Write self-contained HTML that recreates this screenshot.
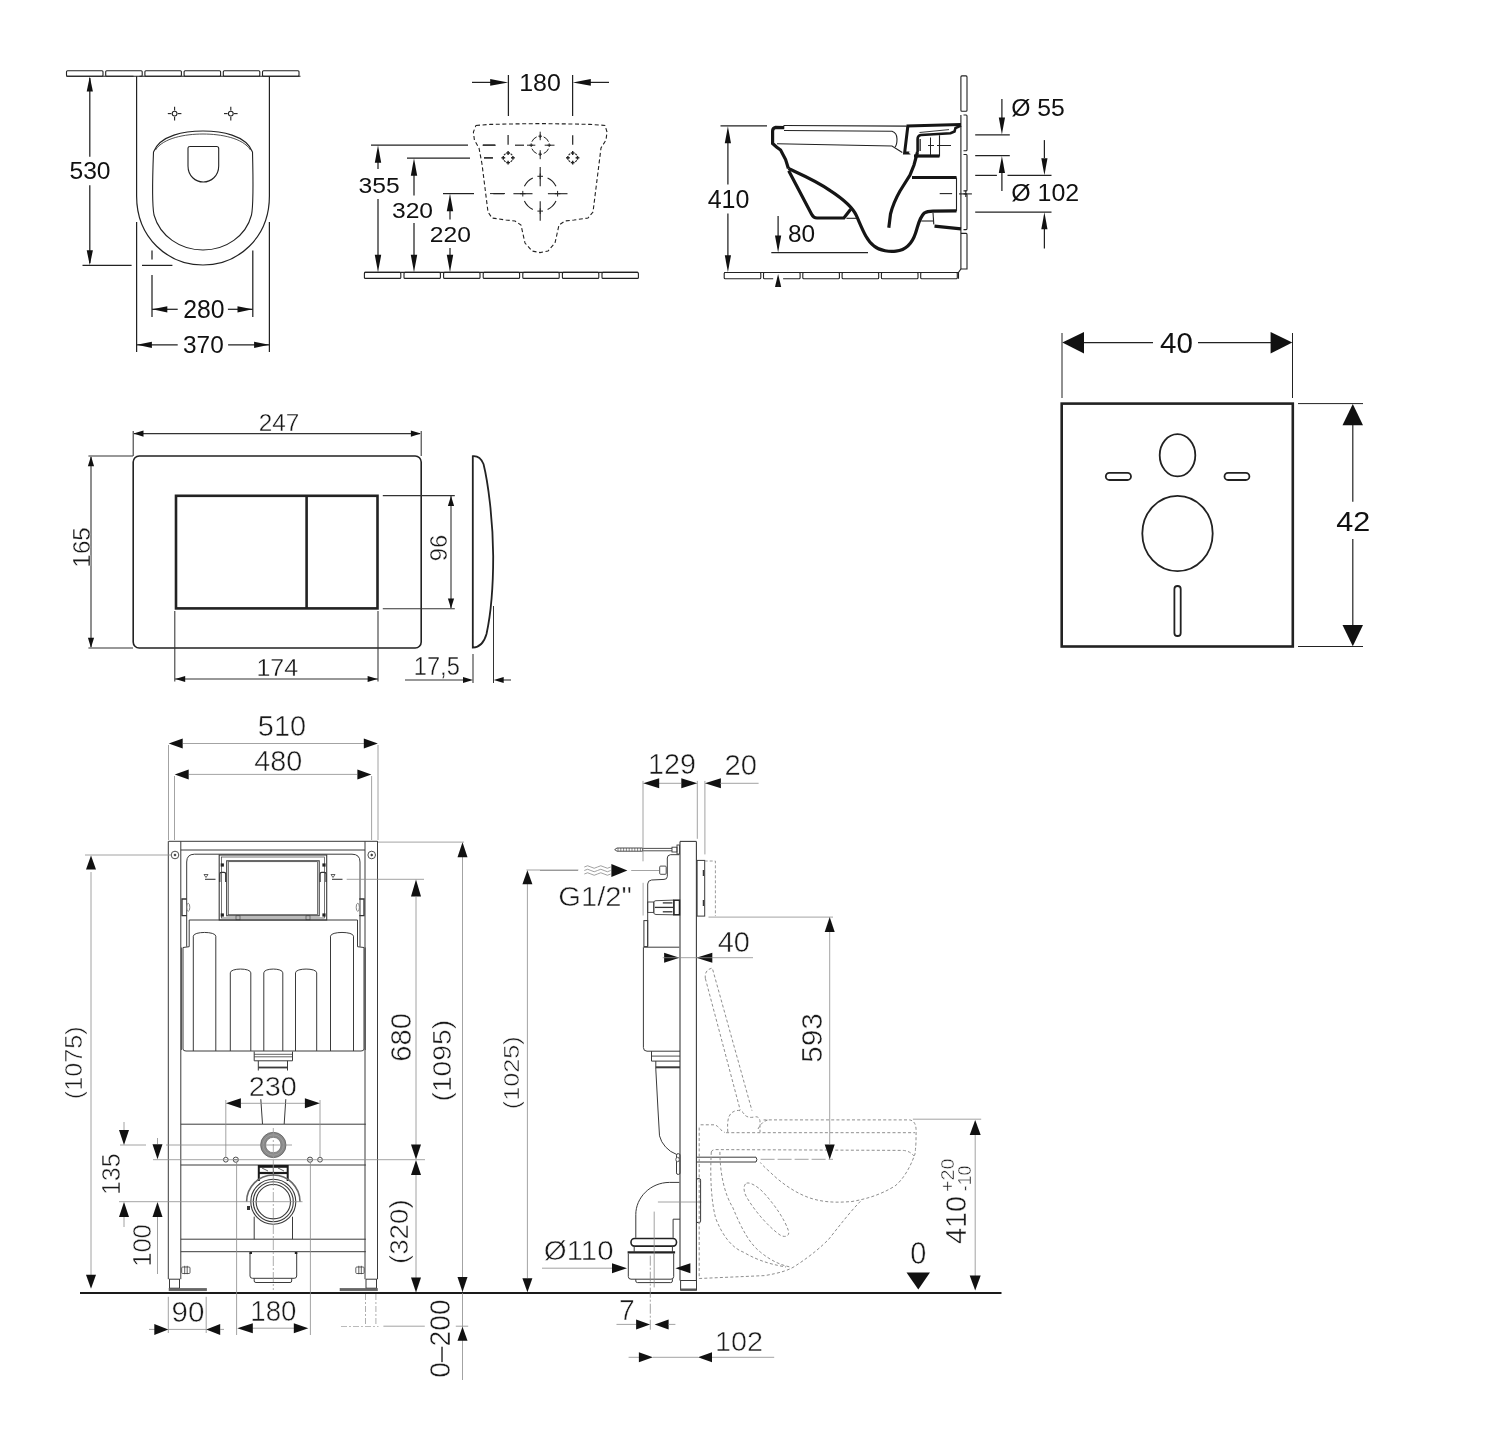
<!DOCTYPE html>
<html><head><meta charset="utf-8"><style>
html,body{margin:0;padding:0;background:#fff;}
svg{display:block;will-change:transform;font-family:"Liberation Sans",sans-serif;}
</style></head><body>
<svg width="1500" height="1451" viewBox="0 0 1500 1451">
<rect width="1500" height="1451" fill="#fff"/>
<rect x="66.5" y="70.7" width="36.5" height="5.6" rx="1" stroke="#222" stroke-width="1.1" fill="none"/>
<rect x="105.7" y="70.7" width="36.5" height="5.6" rx="1" stroke="#222" stroke-width="1.1" fill="none"/>
<rect x="144.9" y="70.7" width="36.5" height="5.6" rx="1" stroke="#222" stroke-width="1.1" fill="none"/>
<rect x="184.1" y="70.7" width="36.5" height="5.6" rx="1" stroke="#222" stroke-width="1.1" fill="none"/>
<rect x="223.3" y="70.7" width="36.5" height="5.6" rx="1" stroke="#222" stroke-width="1.1" fill="none"/>
<rect x="262.5" y="70.7" width="36.5" height="5.6" rx="1" stroke="#222" stroke-width="1.1" fill="none"/>
<line x1="66.5" y1="76.3" x2="133.5" y2="76.3" stroke="#222" stroke-width="1.1"/>
<line x1="139.5" y1="76.3" x2="300.5" y2="76.3" stroke="#222" stroke-width="1.1"/>
<path d="M136.6,76.3 L136.6,196 C136.6,238 168,265 203,265 C238,265 269.4,238 269.4,196 L269.4,76.3" stroke="#222" stroke-width="1.2" fill="none" />
<path d="M153.5,152 C152,190 152,205 154,215 C160,236 180,250 203,250 C226,250 246,236 251.5,215 C253.5,205 253.5,190 252.5,152" stroke="#222" stroke-width="1.1" fill="none" />
<path d="M153.5,152 C160,135 185,131 203,131 C221,131 246,135 252.5,152" stroke="#222" stroke-width="1.1" fill="none" />
<path d="M155.5,150 C163,138 185,134 203,134 C221,134 243,138 250.5,150" stroke="#222" stroke-width="0.8" fill="none" />
<path d="M188,148 Q188,146.5 190,146.5 L216.5,146.5 Q218.7,146.5 218.7,148.5 L218.7,166 C218.7,176 211,182 203.3,182 C195.5,182 188,176 188,166 Z" stroke="#222" stroke-width="1.1" fill="none" />
<ellipse cx="174.6" cy="113.6" rx="2.4" ry="2.4" stroke="#222" stroke-width="1.1" fill="none"/>
<line x1="167.8" y1="113.6" x2="171.4" y2="113.6" stroke="#222" stroke-width="1.1"/>
<line x1="177.8" y1="113.6" x2="181.4" y2="113.6" stroke="#222" stroke-width="1.1"/>
<line x1="174.6" y1="106.8" x2="174.6" y2="110.4" stroke="#222" stroke-width="1.1"/>
<line x1="174.6" y1="116.8" x2="174.6" y2="120.4" stroke="#222" stroke-width="1.1"/>
<ellipse cx="230.8" cy="113.6" rx="2.4" ry="2.4" stroke="#222" stroke-width="1.1" fill="none"/>
<line x1="224.0" y1="113.6" x2="227.6" y2="113.6" stroke="#222" stroke-width="1.1"/>
<line x1="234.0" y1="113.6" x2="237.6" y2="113.6" stroke="#222" stroke-width="1.1"/>
<line x1="230.8" y1="106.8" x2="230.8" y2="110.4" stroke="#222" stroke-width="1.1"/>
<line x1="230.8" y1="116.8" x2="230.8" y2="120.4" stroke="#222" stroke-width="1.1"/>
<line x1="89.8" y1="78.0" x2="89.8" y2="156.8" stroke="#222" stroke-width="1.25"/>
<line x1="89.8" y1="185.2" x2="89.8" y2="263.0" stroke="#222" stroke-width="1.25"/>
<polygon points="89.8,76.5 92.9,91.5 86.7,91.5" fill="#111"/>
<polygon points="89.8,265.3 86.7,250.3 92.9,250.3" fill="#111"/>
<line x1="82.5" y1="265.4" x2="131.6" y2="265.4" stroke="#222" stroke-width="1.25"/>
<line x1="142.0" y1="265.4" x2="172.4" y2="265.4" stroke="#222" stroke-width="1.25"/>
<text x="0" y="0" font-size="23.78" text-anchor="middle" fill="#111" transform="translate(90.00 179.20) scale(1.036 1)" >530</text>
<line x1="152.0" y1="250.6" x2="152.0" y2="259.4" stroke="#222" stroke-width="1.25"/>
<line x1="152.0" y1="275.0" x2="152.0" y2="317.0" stroke="#222" stroke-width="1.25"/>
<line x1="252.8" y1="250.6" x2="252.8" y2="317.0" stroke="#222" stroke-width="1.25"/>
<line x1="152.0" y1="309.3" x2="177.7" y2="309.3" stroke="#222" stroke-width="1.25"/>
<line x1="227.9" y1="309.3" x2="252.8" y2="309.3" stroke="#222" stroke-width="1.25"/>
<polygon points="152.3,309.3 167.3,306.2 167.3,312.4" fill="#111"/>
<polygon points="252.5,309.3 237.5,312.4 237.5,306.2" fill="#111"/>
<text x="0" y="0" font-size="24.92" text-anchor="middle" fill="#111" transform="translate(203.80 317.80) scale(0.995 1)" >280</text>
<line x1="136.6" y1="222.0" x2="136.6" y2="352.0" stroke="#222" stroke-width="1.25"/>
<line x1="269.4" y1="222.0" x2="269.4" y2="352.0" stroke="#222" stroke-width="1.25"/>
<line x1="136.6" y1="344.8" x2="177.7" y2="344.8" stroke="#222" stroke-width="1.25"/>
<line x1="228.1" y1="344.8" x2="269.4" y2="344.8" stroke="#222" stroke-width="1.25"/>
<polygon points="136.9,344.8 151.9,341.7 151.9,347.9" fill="#111"/>
<polygon points="269.1,344.8 254.1,347.9 254.1,341.7" fill="#111"/>
<text x="0" y="0" font-size="23.5" text-anchor="middle" fill="#111" transform="translate(203.40 352.50) scale(1.039 1)" >370</text>
<rect x="364.4" y="272.4" width="36.4" height="6.0" rx="1" stroke="#222" stroke-width="1.1" fill="none"/>
<rect x="404.0" y="272.4" width="36.4" height="6.0" rx="1" stroke="#222" stroke-width="1.1" fill="none"/>
<rect x="443.6" y="272.4" width="36.4" height="6.0" rx="1" stroke="#222" stroke-width="1.1" fill="none"/>
<rect x="483.2" y="272.4" width="36.4" height="6.0" rx="1" stroke="#222" stroke-width="1.1" fill="none"/>
<rect x="522.8" y="272.4" width="36.4" height="6.0" rx="1" stroke="#222" stroke-width="1.1" fill="none"/>
<rect x="562.4" y="272.4" width="36.4" height="6.0" rx="1" stroke="#222" stroke-width="1.1" fill="none"/>
<rect x="602.0" y="272.4" width="36.4" height="6.0" rx="1" stroke="#222" stroke-width="1.1" fill="none"/>
<line x1="364.4" y1="272.4" x2="638.0" y2="272.4" stroke="#222" stroke-width="1.1"/>
<line x1="508.4" y1="75.0" x2="508.4" y2="116.0" stroke="#222" stroke-width="1.25"/>
<line x1="572.6" y1="75.0" x2="572.6" y2="116.0" stroke="#222" stroke-width="1.25"/>
<line x1="472.0" y1="82.4" x2="495.0" y2="82.4" stroke="#222" stroke-width="1.25"/>
<polygon points="508.2,82.4 490.2,85.7 490.2,79.1" fill="#111"/>
<line x1="609.0" y1="82.4" x2="586.0" y2="82.4" stroke="#222" stroke-width="1.25"/>
<polygon points="572.8,82.4 590.8,79.1 590.8,85.7" fill="#111"/>
<text x="0" y="0" font-size="24.36" text-anchor="middle" fill="#111" transform="translate(540.00 91.00) scale(1.024 1)" >180</text>
<path d="M476.0,125.4 L490.0,124.4 L508.0,124.0 L540.0,123.6 L572.0,124.0 L590.0,124.4 L605.0,125.4 L607.0,132.0 L606.0,140.0 L601.0,148.0 L599.0,164.0 L596.0,188.0 L593.0,212.0 L588.0,218.0 L574.0,220.0 L565.0,221.0 L559.0,225.0 L557.0,234.0 L555.0,243.0 L548.0,251.0 L540.0,252.6 L532.0,251.0 L525.0,243.0 L523.0,234.0 L521.0,225.0 L515.0,221.0 L506.0,220.0 L492.0,218.0 L488.0,212.0 L485.0,188.0 L482.0,164.0 L479.0,148.0 L474.4,140.0 L473.4,132.0 Z" stroke="#222" stroke-width="1.1" fill="none" stroke-dasharray="4,2.6" />
<line x1="371.0" y1="145.0" x2="468.0" y2="145.0" stroke="#222" stroke-width="1.25"/>
<line x1="483.0" y1="145.0" x2="495.0" y2="145.0" stroke="#222" stroke-width="1"/>
<line x1="407.0" y1="158.0" x2="470.0" y2="158.0" stroke="#222" stroke-width="1.25"/>
<line x1="484.0" y1="158.0" x2="493.0" y2="158.0" stroke="#222" stroke-width="1"/>
<line x1="443.0" y1="193.6" x2="474.0" y2="193.6" stroke="#222" stroke-width="1.25"/>
<line x1="490.0" y1="193.6" x2="505.0" y2="193.6" stroke="#222" stroke-width="1"/>
<line x1="378.0" y1="160.0" x2="378.0" y2="169.0" stroke="#222" stroke-width="1.25"/>
<line x1="378.0" y1="199.0" x2="378.0" y2="257.0" stroke="#222" stroke-width="1.25"/>
<polygon points="378.0,145.3 381.2,162.8 374.8,162.8" fill="#111"/>
<polygon points="378.0,272.2 374.8,254.7 381.2,254.7" fill="#111"/>
<text x="0" y="0" font-size="22.32" text-anchor="middle" fill="#111" transform="translate(379.10 193.40) scale(1.104 1)" >355</text>
<line x1="414.0" y1="174.0" x2="414.0" y2="195.5" stroke="#222" stroke-width="1.25"/>
<line x1="414.0" y1="222.9" x2="414.0" y2="257.0" stroke="#222" stroke-width="1.25"/>
<polygon points="414.0,158.3 417.2,175.8 410.8,175.8" fill="#111"/>
<polygon points="414.0,272.2 410.8,254.7 417.2,254.7" fill="#111"/>
<text x="0" y="0" font-size="22.32" text-anchor="middle" fill="#111" transform="translate(412.50 217.80) scale(1.105 1)" >320</text>
<line x1="450.0" y1="209.0" x2="450.0" y2="219.6" stroke="#222" stroke-width="1.25"/>
<polygon points="450.0,193.8 453.2,211.3 446.8,211.3" fill="#111"/>
<line x1="450.0" y1="248.0" x2="450.0" y2="257.0" stroke="#222" stroke-width="1.25"/>
<polygon points="450.0,272.2 446.8,254.7 453.2,254.7" fill="#111"/>
<text x="0" y="0" font-size="22.87" text-anchor="middle" fill="#111" transform="translate(450.30 242.20) scale(1.078 1)" >220</text>
<path d="M548.5,148.7 A9,9 0 0 1 543.7,153.5" stroke="#222" stroke-width="1" fill="none" />
<path d="M536.7,153.5 A9,9 0 0 1 531.9,148.7" stroke="#222" stroke-width="1" fill="none" />
<path d="M531.9,141.7 A9,9 0 0 1 536.7,136.9" stroke="#222" stroke-width="1" fill="none" />
<path d="M543.7,136.9 A9,9 0 0 1 548.5,141.7" stroke="#222" stroke-width="1" fill="none" />
<line x1="540.2" y1="131.7" x2="540.2" y2="140.2" stroke="#222" stroke-width="1"/>
<line x1="540.2" y1="150.2" x2="540.2" y2="159.2" stroke="#222" stroke-width="1"/>
<line x1="527.0" y1="145.2" x2="535.3" y2="145.2" stroke="#222" stroke-width="1"/>
<line x1="544.7" y1="145.2" x2="554.5" y2="145.2" stroke="#222" stroke-width="1"/>
<line x1="538.4" y1="136.2" x2="542.0" y2="136.2" stroke="#222" stroke-width="1"/>
<line x1="540.2" y1="134.4" x2="540.2" y2="138.0" stroke="#222" stroke-width="1"/>
<line x1="538.4" y1="154.2" x2="542.0" y2="154.2" stroke="#222" stroke-width="1"/>
<line x1="540.2" y1="152.4" x2="540.2" y2="156.0" stroke="#222" stroke-width="1"/>
<line x1="529.4" y1="145.2" x2="533.0" y2="145.2" stroke="#222" stroke-width="1"/>
<line x1="531.2" y1="143.4" x2="531.2" y2="147.0" stroke="#222" stroke-width="1"/>
<line x1="547.4" y1="145.2" x2="551.0" y2="145.2" stroke="#222" stroke-width="1"/>
<line x1="549.2" y1="143.4" x2="549.2" y2="147.0" stroke="#222" stroke-width="1"/>
<line x1="482.6" y1="145.2" x2="495.7" y2="145.2" stroke="#222" stroke-width="1.2"/>
<line x1="515.0" y1="145.2" x2="524.0" y2="145.2" stroke="#222" stroke-width="1.2"/>
<line x1="508.1" y1="134.9" x2="508.1" y2="144.7" stroke="#222" stroke-width="1.2"/>
<line x1="572.7" y1="135.2" x2="572.7" y2="144.7" stroke="#222" stroke-width="1.2"/>
<path d="M512.2,160.3 A4.8,4.8 0 0 1 510.6,161.9" stroke="#222" stroke-width="1.1" fill="none" />
<path d="M505.6,161.9 A4.8,4.8 0 0 1 504.0,160.3" stroke="#222" stroke-width="1.1" fill="none" />
<path d="M504.0,155.3 A4.8,4.8 0 0 1 505.6,153.7" stroke="#222" stroke-width="1.1" fill="none" />
<path d="M510.6,153.7 A4.8,4.8 0 0 1 512.2,155.3" stroke="#222" stroke-width="1.1" fill="none" />
<line x1="511.0" y1="157.8" x2="514.8" y2="157.8" stroke="#222" stroke-width="1.4"/>
<line x1="512.9" y1="155.9" x2="512.9" y2="159.7" stroke="#222" stroke-width="1.4"/>
<line x1="501.4" y1="157.8" x2="505.2" y2="157.8" stroke="#222" stroke-width="1.4"/>
<line x1="503.3" y1="155.9" x2="503.3" y2="159.7" stroke="#222" stroke-width="1.4"/>
<line x1="506.2" y1="162.6" x2="510.0" y2="162.6" stroke="#222" stroke-width="1.4"/>
<line x1="508.1" y1="160.7" x2="508.1" y2="164.5" stroke="#222" stroke-width="1.4"/>
<line x1="506.2" y1="153.0" x2="510.0" y2="153.0" stroke="#222" stroke-width="1.4"/>
<line x1="508.1" y1="151.1" x2="508.1" y2="154.9" stroke="#222" stroke-width="1.4"/>
<path d="M576.8,160.3 A4.8,4.8 0 0 1 575.2,161.9" stroke="#222" stroke-width="1.1" fill="none" />
<path d="M570.2,161.9 A4.8,4.8 0 0 1 568.6,160.3" stroke="#222" stroke-width="1.1" fill="none" />
<path d="M568.6,155.3 A4.8,4.8 0 0 1 570.2,153.7" stroke="#222" stroke-width="1.1" fill="none" />
<path d="M575.2,153.7 A4.8,4.8 0 0 1 576.8,155.3" stroke="#222" stroke-width="1.1" fill="none" />
<line x1="575.6" y1="157.8" x2="579.4" y2="157.8" stroke="#222" stroke-width="1.4"/>
<line x1="577.5" y1="155.9" x2="577.5" y2="159.7" stroke="#222" stroke-width="1.4"/>
<line x1="566.0" y1="157.8" x2="569.8" y2="157.8" stroke="#222" stroke-width="1.4"/>
<line x1="567.9" y1="155.9" x2="567.9" y2="159.7" stroke="#222" stroke-width="1.4"/>
<line x1="570.8" y1="162.6" x2="574.6" y2="162.6" stroke="#222" stroke-width="1.4"/>
<line x1="572.7" y1="160.7" x2="572.7" y2="164.5" stroke="#222" stroke-width="1.4"/>
<line x1="570.8" y1="153.0" x2="574.6" y2="153.0" stroke="#222" stroke-width="1.4"/>
<line x1="572.7" y1="151.1" x2="572.7" y2="154.9" stroke="#222" stroke-width="1.4"/>
<line x1="484.0" y1="157.8" x2="492.9" y2="157.8" stroke="#222" stroke-width="1.2"/>
<path d="M556.0,201.1 A17.4,17.4 0 0 1 547.6,209.5" stroke="#222" stroke-width="1.1" fill="none" />
<path d="M532.8,209.5 A17.4,17.4 0 0 1 524.4,201.1" stroke="#222" stroke-width="1.1" fill="none" />
<path d="M524.4,186.3 A17.4,17.4 0 0 1 532.8,177.9" stroke="#222" stroke-width="1.1" fill="none" />
<path d="M547.6,177.9 A17.4,17.4 0 0 1 556.0,186.3" stroke="#222" stroke-width="1.1" fill="none" />
<line x1="540.2" y1="167.1" x2="540.2" y2="186.3" stroke="#222" stroke-width="1.1"/>
<line x1="540.2" y1="201.2" x2="540.2" y2="220.8" stroke="#222" stroke-width="1.1"/>
<line x1="513.4" y1="193.7" x2="532.5" y2="193.7" stroke="#222" stroke-width="1.1"/>
<line x1="547.9" y1="193.7" x2="567.5" y2="193.7" stroke="#222" stroke-width="1.1"/>
<line x1="493.3" y1="193.7" x2="504.1" y2="193.7" stroke="#222" stroke-width="1.1"/>
<line x1="537.4" y1="176.3" x2="543.0" y2="176.3" stroke="#222" stroke-width="1"/>
<line x1="540.2" y1="173.5" x2="540.2" y2="179.1" stroke="#222" stroke-width="1"/>
<line x1="537.4" y1="211.1" x2="543.0" y2="211.1" stroke="#222" stroke-width="1"/>
<line x1="540.2" y1="208.3" x2="540.2" y2="213.9" stroke="#222" stroke-width="1"/>
<line x1="520.0" y1="193.7" x2="525.6" y2="193.7" stroke="#222" stroke-width="1"/>
<line x1="522.8" y1="190.9" x2="522.8" y2="196.5" stroke="#222" stroke-width="1"/>
<line x1="554.8" y1="193.7" x2="560.4" y2="193.7" stroke="#222" stroke-width="1"/>
<line x1="557.6" y1="190.9" x2="557.6" y2="196.5" stroke="#222" stroke-width="1"/>
<rect x="960.9" y="75.9" width="6.1" height="35.4" rx="1" stroke="#222" stroke-width="1.1" fill="none"/>
<path d="M963.5,115 L966.2,115 Q967,115 967,116 L967,149.7 Q967,150.7 966.2,150.7 L963.5,150.7" stroke="#222" stroke-width="1.1" fill="none" />
<path d="M963.5,154.5 L966.2,154.5 Q967,154.5 967,155.5 L967,189.9 Q967,190.9 966.2,190.9 L963.5,190.9" stroke="#222" stroke-width="1.1" fill="none" />
<path d="M963.5,193.9 L966.2,193.9 Q967,193.9 967,194.9 L967,228.6 Q967,229.6 966.2,229.6 L963.5,229.6" stroke="#222" stroke-width="1.1" fill="none" />
<line x1="960.9" y1="115.0" x2="960.9" y2="269.0" stroke="#222" stroke-width="1.1"/>
<path d="M960.9,233.4 L966.2,233.4 Q967,233.4 967,234.4 L967,269 L960.9,269" stroke="#222" stroke-width="1.1" fill="none" />
<path d="M960.9,269 L958.5,272.5 L958.5,278.7" stroke="#222" stroke-width="1.1" fill="none" />
<rect x="724.2" y="272.5" width="36.6" height="6.2" rx="1" stroke="#222" stroke-width="1.1" fill="none"/>
<path d="M773.2,278.7 L764.5,278.7 Q763.5,278.7 763.5,277.7 L763.5,273.5 Q763.5,272.5 764.5,272.5 L799.1,272.5 Q800.1,272.5 800.1,273.5 L800.1,277.7 Q800.1,278.7 799.1,278.7 L783.1,278.7" stroke="#222" stroke-width="1.1" fill="none" />
<rect x="802.8" y="272.5" width="36.6" height="6.2" rx="1" stroke="#222" stroke-width="1.1" fill="none"/>
<rect x="842.1" y="272.5" width="36.6" height="6.2" rx="1" stroke="#222" stroke-width="1.1" fill="none"/>
<rect x="881.4" y="272.5" width="36.6" height="6.2" rx="1" stroke="#222" stroke-width="1.1" fill="none"/>
<rect x="920.7" y="272.5" width="36.6" height="6.2" rx="1" stroke="#222" stroke-width="1.1" fill="none"/>
<line x1="724.2" y1="272.5" x2="958.5" y2="272.5" stroke="#222" stroke-width="1.1"/>
<line x1="720.5" y1="125.9" x2="767.0" y2="125.9" stroke="#222" stroke-width="1.25"/>
<line x1="727.9" y1="142.0" x2="727.9" y2="184.4" stroke="#222" stroke-width="1.25"/>
<line x1="727.9" y1="213.6" x2="727.9" y2="256.0" stroke="#222" stroke-width="1.25"/>
<polygon points="727.9,126.2 731.0,143.2 724.8,143.2" fill="#111"/>
<polygon points="727.9,272.2 724.8,255.2 731.0,255.2" fill="#111"/>
<text x="0" y="0" font-size="24.87" text-anchor="middle" fill="#111" transform="translate(728.50 208.20) scale(1.006 1)" >410</text>
<line x1="771.3" y1="252.6" x2="868.0" y2="252.6" stroke="#222" stroke-width="1.25"/>
<line x1="778.1" y1="216.0" x2="778.1" y2="236.0" stroke="#222" stroke-width="1.25"/>
<polygon points="778.1,252.4 775.0,235.4 781.2,235.4" fill="#111"/>
<polygon points="778.1,273.9 781.2,286.9 775.0,286.9" fill="#111"/>
<line x1="778.1" y1="284.0" x2="778.1" y2="287.0" stroke="#222" stroke-width="1.25"/>
<text x="0" y="0" font-size="23.72" text-anchor="middle" fill="#111" transform="translate(801.60 242.30) scale(1.03 1)" >80</text>
<line x1="783.5" y1="125.5" x2="906.7" y2="126.1" stroke="#222" stroke-width="1.1"/>
<path d="M784,130.5 L892,131.3 Q897,133 897,139 Q897,145 895,147" stroke="#222" stroke-width="1.1" fill="none" />
<path d="M777,143.7 L892,146 L902.3,152.5" stroke="#222" stroke-width="1.1" fill="none" />
<line x1="846.4" y1="218.3" x2="856.3" y2="218.3" stroke="#222" stroke-width="1.1"/>
<line x1="921.3" y1="221.0" x2="933.0" y2="221.0" stroke="#222" stroke-width="1.1"/>
<path d="M784.3,127.7 L775.7,127.4 Q772.6,128 772.6,131 L772.6,143.5 L776.5,147 L780.6,150 L785.6,159.6 L788.4,168.5" stroke="#151515" stroke-width="3.2" fill="none" />
<path d="M788.4,168.5 C800,174 815,180 830.2,190.6 C840,197 852,206 856.3,215.4 C862,228 866,240 874,246 C880,251 890,252 896,251.2 C905,250 912,244 915.5,233.2 C918,226 919,218 924.3,213 C927,211.3 930,211.2 933,211.2 L956.5,210.8" stroke="#151515" stroke-width="3.2" fill="none" />
<path d="M788.7,170.8 L811.6,214.2 Q813.5,218 817,218 L843.9,218 L850.7,209.2" stroke="#151515" stroke-width="3.2" fill="none" />
<path d="M917.5,152 L914,165 L910,175 L900,191 C896,198 892.5,206 890.5,214 L888.8,227.8" stroke="#151515" stroke-width="3.2" fill="none" />
<line x1="912.0" y1="177.5" x2="956.5" y2="177.5" stroke="#151515" stroke-width="3"/>
<line x1="956.5" y1="177.5" x2="956.5" y2="211.2" stroke="#222" stroke-width="1.1"/>
<path d="M906.5,125.9 L961,124.6" stroke="#151515" stroke-width="3" fill="none" />
<path d="M907.8,126.5 L904.6,153 L910.5,153" stroke="#151515" stroke-width="3" fill="none" />
<path d="M961,125.6 L955.5,128 L954.5,131.5 L950.5,133.2 L921,135 Q917.6,135.5 917.6,139 L917.6,152" stroke="#151515" stroke-width="2.6" fill="none" />
<line x1="949.0" y1="129.6" x2="919.5" y2="132.5" stroke="#222" stroke-width="0.9"/>
<path d="M914,156 L939.5,156 L939.5,135.3" stroke="#222" stroke-width="1.1" fill="none" />
<line x1="914.0" y1="156.0" x2="939.5" y2="156.0" stroke="#151515" stroke-width="3.2"/>
<line x1="930.5" y1="137.5" x2="930.5" y2="155.0" stroke="#222" stroke-width="1"/>
<line x1="919.0" y1="139.0" x2="919.0" y2="151.0" stroke="#222" stroke-width="0.9"/>
<line x1="920.4" y1="139.0" x2="920.4" y2="151.0" stroke="#222" stroke-width="0.9"/>
<line x1="928.0" y1="145.5" x2="934.0" y2="145.5" stroke="#222" stroke-width="1"/>
<line x1="937.0" y1="145.5" x2="951.0" y2="145.5" stroke="#222" stroke-width="1"/>
<ellipse cx="910.5" cy="152.4" rx="1.1" ry="1.1" stroke="#fff" stroke-width="0.8" fill="#fff"/>
<line x1="933.0" y1="212.7" x2="933.8" y2="224.4" stroke="#222" stroke-width="1.1"/>
<line x1="934.5" y1="226.2" x2="961.0" y2="228.8" stroke="#151515" stroke-width="3.2"/>
<line x1="939.7" y1="193.6" x2="952.1" y2="193.6" stroke="#222" stroke-width="1.1"/>
<line x1="959.0" y1="193.9" x2="971.9" y2="193.9" stroke="#222" stroke-width="1.1"/>
<line x1="965.8" y1="190.5" x2="965.8" y2="197.0" stroke="#222" stroke-width="1.1"/>
<line x1="975.2" y1="134.8" x2="1009.8" y2="134.8" stroke="#222" stroke-width="1.25"/>
<line x1="975.2" y1="155.7" x2="1009.8" y2="155.7" stroke="#222" stroke-width="1.25"/>
<line x1="1001.9" y1="99.1" x2="1001.9" y2="118.0" stroke="#222" stroke-width="1.25"/>
<polygon points="1001.9,134.6 998.8,117.6 1005.0,117.6" fill="#111"/>
<line x1="1001.9" y1="190.9" x2="1001.9" y2="172.0" stroke="#222" stroke-width="1.25"/>
<polygon points="1001.9,155.9 1005.0,172.9 998.8,172.9" fill="#111"/>
<text x="0" y="0" font-size="23.08" text-anchor="start" fill="#111" transform="translate(1011.20 115.80) scale(1.072 1)" >Ø 55</text>
<line x1="975.2" y1="175.4" x2="996.9" y2="175.4" stroke="#222" stroke-width="1.25"/>
<line x1="1007.5" y1="175.4" x2="1051.5" y2="175.4" stroke="#222" stroke-width="1.25"/>
<line x1="975.2" y1="212.1" x2="1051.5" y2="212.1" stroke="#222" stroke-width="1.25"/>
<line x1="1044.4" y1="140.1" x2="1044.4" y2="158.0" stroke="#222" stroke-width="1.25"/>
<polygon points="1044.4,175.2 1041.3,158.2 1047.5,158.2" fill="#111"/>
<line x1="1044.4" y1="248.5" x2="1044.4" y2="229.0" stroke="#222" stroke-width="1.25"/>
<polygon points="1044.4,212.3 1047.5,229.3 1041.3,229.3" fill="#111"/>
<text x="0" y="0" font-size="23.06" text-anchor="start" fill="#111" transform="translate(1011.20 201.30) scale(1.082 1)" >Ø 102</text>
<rect x="133.2" y="456.0" width="288.0" height="192.0" rx="6" stroke="#222" stroke-width="1.6" fill="none"/>
<rect x="176.0" y="495.8" width="201.5" height="112.6" rx="0" stroke="#222" stroke-width="2.6" fill="none"/>
<line x1="306.6" y1="495.8" x2="306.6" y2="608.4" stroke="#222" stroke-width="2.6"/>
<line x1="133.2" y1="431.0" x2="133.2" y2="456.0" stroke="#333" stroke-width="1.05"/>
<line x1="421.2" y1="431.0" x2="421.2" y2="456.0" stroke="#333" stroke-width="1.05"/>
<line x1="134.0" y1="433.6" x2="420.0" y2="433.6" stroke="#333" stroke-width="1.1"/>
<polygon points="133.5,433.6 143.5,430.5 143.5,436.7" fill="#111"/>
<polygon points="420.9,433.6 410.9,436.7 410.9,430.5" fill="#111"/>
<text x="0" y="0" font-size="24.39" text-anchor="middle" fill="#161616" stroke="#fff" stroke-width="0.35" transform="translate(279.10 430.60) scale(0.998 1)" >247</text>
<line x1="88.4" y1="456.0" x2="133.0" y2="456.0" stroke="#333" stroke-width="1.05"/>
<line x1="88.4" y1="648.0" x2="133.0" y2="648.0" stroke="#333" stroke-width="1.05"/>
<line x1="91.0" y1="457.0" x2="91.0" y2="647.0" stroke="#333" stroke-width="1.1"/>
<polygon points="91.0,456.3 94.1,466.3 87.9,466.3" fill="#111"/>
<polygon points="91.0,647.7 87.9,637.7 94.1,637.7" fill="#111"/>
<text x="0" y="0" font-size="23.97" text-anchor="middle" fill="#161616" stroke="#fff" stroke-width="0.35" transform="translate(89.60 547.40) rotate(-90) scale(1.005 1)" >165</text>
<line x1="382.8" y1="495.6" x2="454.8" y2="495.6" stroke="#333" stroke-width="1.05"/>
<line x1="382.8" y1="608.8" x2="454.8" y2="608.8" stroke="#333" stroke-width="1.05"/>
<line x1="451.0" y1="496.0" x2="451.0" y2="608.0" stroke="#333" stroke-width="1.1"/>
<polygon points="451.0,495.9 454.1,505.9 447.9,505.9" fill="#111"/>
<polygon points="451.0,608.5 447.9,598.5 454.1,598.5" fill="#111"/>
<text x="0" y="0" font-size="24.38" text-anchor="middle" fill="#161616" stroke="#fff" stroke-width="0.35" transform="translate(447.40 548.10) rotate(-90) scale(0.977 1)" >96</text>
<line x1="174.8" y1="611.0" x2="174.8" y2="681.6" stroke="#333" stroke-width="1.05"/>
<line x1="378.0" y1="611.0" x2="378.0" y2="681.6" stroke="#333" stroke-width="1.05"/>
<line x1="175.0" y1="679.0" x2="378.0" y2="679.0" stroke="#333" stroke-width="1.1"/>
<polygon points="175.2,679.0 185.2,675.9 185.2,682.1" fill="#111"/>
<polygon points="377.6,679.0 367.6,682.1 367.6,675.9" fill="#111"/>
<text x="0" y="0" font-size="24.81" text-anchor="middle" fill="#161616" stroke="#fff" stroke-width="0.35" transform="translate(277.30 675.80) scale(1.008 1)" >174</text>
<path d="M472.8,456.2 C477,455.8 481,458 483.5,464 C488,482 493,520 493.2,556 C493.2,590 490,618 486.5,634 C484,643 480,647.2 472.8,647.6 Z" stroke="#222" stroke-width="1.8" fill="none" />
<line x1="473.0" y1="654.0" x2="473.0" y2="683.0" stroke="#333" stroke-width="1.05"/>
<line x1="493.5" y1="606.0" x2="493.5" y2="683.0" stroke="#333" stroke-width="1.05"/>
<line x1="405.0" y1="680.0" x2="466.0" y2="680.0" stroke="#333" stroke-width="1.1"/>
<polygon points="473.0,680.0 463.0,683.1 463.0,676.9" fill="#111"/>
<line x1="511.0" y1="680.0" x2="500.0" y2="680.0" stroke="#333" stroke-width="1.1"/>
<polygon points="493.7,680.0 503.7,676.9 503.7,683.1" fill="#111"/>
<text x="0" y="0" font-size="24.97" text-anchor="middle" fill="#161616" stroke="#fff" stroke-width="0.35" transform="translate(436.80 674.90) scale(0.947 1)" >17,5</text>
<rect x="1061.7" y="403.6" width="231.1" height="242.9" rx="0" stroke="#222" stroke-width="2.6" fill="none"/>
<line x1="1062.0" y1="333.0" x2="1062.0" y2="398.0" stroke="#222" stroke-width="1"/>
<line x1="1292.5" y1="333.0" x2="1292.5" y2="398.0" stroke="#222" stroke-width="1"/>
<line x1="1083.0" y1="342.6" x2="1153.0" y2="342.6" stroke="#222" stroke-width="1.2"/>
<line x1="1198.0" y1="342.6" x2="1271.5" y2="342.6" stroke="#222" stroke-width="1.2"/>
<polygon points="1062.3,342.6 1084.0,331.9 1084.0,353.4" fill="#111"/>
<polygon points="1292.3,342.6 1270.6,353.4 1270.6,331.9" fill="#111"/>
<text x="0" y="0" font-size="29.21" text-anchor="middle" fill="#111" transform="translate(1176.50 353.40) scale(1.012 1)" >40</text>
<line x1="1298.0" y1="403.6" x2="1363.0" y2="403.6" stroke="#222" stroke-width="1"/>
<line x1="1298.0" y1="646.5" x2="1363.0" y2="646.5" stroke="#222" stroke-width="1"/>
<line x1="1352.8" y1="425.0" x2="1352.8" y2="501.7" stroke="#222" stroke-width="1.2"/>
<line x1="1352.8" y1="539.0" x2="1352.8" y2="626.0" stroke="#222" stroke-width="1.2"/>
<polygon points="1352.8,404.0 1363.0,425.3 1342.5,425.3" fill="#111"/>
<polygon points="1352.8,646.2 1342.5,624.9 1363.0,624.9" fill="#111"/>
<text x="0" y="0" font-size="27.17" text-anchor="middle" fill="#111" transform="translate(1353.20 531.00) scale(1.125 1)" >42</text>
<ellipse cx="1177.5" cy="455.3" rx="17.8" ry="21.1" stroke="#222" stroke-width="1.8" fill="none"/>
<rect x="1105.8" y="472.8" width="25.2" height="7.2" rx="3.6" stroke="#222" stroke-width="1.8" fill="none"/>
<rect x="1224.5" y="472.8" width="24.9" height="7.2" rx="3.6" stroke="#222" stroke-width="1.8" fill="none"/>
<ellipse cx="1177.5" cy="533.5" rx="35.2" ry="37.7" stroke="#222" stroke-width="1.8" fill="none"/>
<rect x="1174.4" y="586.0" width="6.3" height="50.0" rx="3.1" stroke="#222" stroke-width="1.8" fill="none"/>
<line x1="80.0" y1="1293.0" x2="1001.5" y2="1293.0" stroke="#1a1a1a" stroke-width="1.9"/>
<line x1="168.3" y1="841.3" x2="168.3" y2="1279.2" stroke="#3a3a3a" stroke-width="1.0"/>
<line x1="180.8" y1="841.3" x2="180.8" y2="1279.2" stroke="#3a3a3a" stroke-width="1.0"/>
<line x1="365.0" y1="841.3" x2="365.0" y2="1279.2" stroke="#3a3a3a" stroke-width="1.0"/>
<line x1="377.5" y1="841.3" x2="377.5" y2="1279.2" stroke="#3a3a3a" stroke-width="1.0"/>
<line x1="168.3" y1="841.3" x2="377.5" y2="841.3" stroke="#3a3a3a" stroke-width="1.0"/>
<line x1="180.8" y1="850.0" x2="365.0" y2="850.0" stroke="#3a3a3a" stroke-width="1.0"/>
<line x1="377.5" y1="841.3" x2="377.5" y2="850.0" stroke="#3a3a3a" stroke-width="1.0"/>
<rect x="169.5" y="1279.2" width="10.0" height="9.0" rx="0" stroke="#3a3a3a" stroke-width="1.0" fill="none"/>
<rect x="169.0" y="1288.3" width="37.7" height="2.5" rx="0" stroke="#555" stroke-width="0.5" fill="#666"/>
<rect x="366.0" y="1279.2" width="10.5" height="9.0" rx="0" stroke="#3a3a3a" stroke-width="1.0" fill="none"/>
<rect x="340.0" y="1288.3" width="37.5" height="2.5" rx="0" stroke="#555" stroke-width="0.5" fill="#666"/>
<ellipse cx="175.0" cy="855.0" rx="3.8" ry="3.8" stroke="#3a3a3a" stroke-width="0.9" fill="none"/>
<ellipse cx="175.0" cy="855.0" rx="0.9" ry="0.9" stroke="#3a3a3a" stroke-width="0.8" fill="#3a3a3a"/>
<ellipse cx="371.7" cy="855.0" rx="3.8" ry="3.8" stroke="#3a3a3a" stroke-width="0.9" fill="none"/>
<ellipse cx="371.7" cy="855.0" rx="0.9" ry="0.9" stroke="#3a3a3a" stroke-width="0.8" fill="#3a3a3a"/>
<path d="M186.7,946.7 L186.7,862 Q186.7,854.2 194.5,854.2 L352,854.2 Q360,854.2 360,862 L360,946.7" stroke="#3a3a3a" stroke-width="1.0" fill="none" />
<path d="M189.2,920 L189.2,946.7 L183,947.5 L183,1049 Q183,1051 186,1051 L361,1051 Q364,1051 364,1049 L364,947.5 L357.5,946.7 L357.5,920" stroke="#3a3a3a" stroke-width="1.0" fill="none" />
<line x1="189.2" y1="920.0" x2="357.5" y2="920.0" stroke="#3a3a3a" stroke-width="1.0"/>
<line x1="181.5" y1="947.5" x2="181.5" y2="1050.0" stroke="#3a3a3a" stroke-width="0.8"/>
<line x1="365.3" y1="947.5" x2="365.3" y2="1050.0" stroke="#3a3a3a" stroke-width="0.8"/>
<rect x="219.2" y="855.0" width="107.5" height="65.0" rx="0" stroke="#3a3a3a" stroke-width="1.1" fill="none"/>
<rect x="221.5" y="857.0" width="103.0" height="61.0" rx="0" stroke="#3a3a3a" stroke-width="0.7" fill="none"/>
<rect x="226.7" y="860.8" width="92.5" height="55.0" rx="0" stroke="#3a3a3a" stroke-width="1.1" fill="none"/>
<rect x="228.3" y="861.7" width="89.2" height="53.0" rx="0" stroke="#3a3a3a" stroke-width="0.7" fill="none"/>
<rect x="220.7" y="863.4" width="3.2" height="3.2" rx="0" stroke="#222" stroke-width="0" fill="#222"/>
<rect x="322.4" y="863.4" width="3.2" height="3.2" rx="0" stroke="#222" stroke-width="0" fill="#222"/>
<rect x="220.7" y="913.4" width="3.2" height="3.2" rx="0" stroke="#222" stroke-width="0" fill="#222"/>
<rect x="322.4" y="913.4" width="3.2" height="3.2" rx="0" stroke="#222" stroke-width="0" fill="#222"/>
<path d="M219.8,882 L219.8,874 Q219.8,872.3 221.5,872.3 L224.0,872.3 Q225.70000000000002,872.3 225.70000000000002,874 L225.70000000000002,882" stroke="#333" stroke-width="1.2" fill="none" />
<path d="M320.1,882 L320.1,874 Q320.1,872.3 321.8,872.3 L324.3,872.3 Q326.0,872.3 326.0,874 L326.0,882" stroke="#333" stroke-width="1.2" fill="none" />
<rect x="236.0" y="915.8" width="4.0" height="4.0" rx="0" stroke="#3a3a3a" stroke-width="0.6" fill="none"/>
<rect x="306.0" y="915.8" width="4.0" height="4.0" rx="0" stroke="#3a3a3a" stroke-width="0.6" fill="none"/>
<path d="M186.7,899 L182,899 L182,915.6 L186.7,915.6" stroke="#333" stroke-width="1.3" fill="none" />
<ellipse cx="188.2" cy="907.3" rx="1.6" ry="4.0" stroke="#777" stroke-width="0.9" fill="none"/>
<path d="M359.3,899 L364,899 L364,915.6 L359.3,915.6" stroke="#333" stroke-width="1.3" fill="none" />
<ellipse cx="357.8" cy="907.3" rx="1.6" ry="4.0" stroke="#777" stroke-width="0.9" fill="none"/>
<path d="M204,874.5 L208,874.5 L206,877.5 Z" stroke="#3a3a3a" stroke-width="0.8" fill="none" />
<line x1="205.0" y1="879.3" x2="215.5" y2="879.3" stroke="#3a3a3a" stroke-width="1.1"/>
<path d="M331,874.5 L335,874.5 L333,877.5 Z" stroke="#3a3a3a" stroke-width="0.8" fill="none" />
<line x1="332.0" y1="879.3" x2="342.5" y2="879.3" stroke="#3a3a3a" stroke-width="1.1"/>
<path d="M193.3,1051 L193.3,936.2 C193.3,931.2 215.8,931.2 215.8,936.2 L215.8,1051" stroke="#3a3a3a" stroke-width="1.0" fill="none" />
<path d="M330.5,1051 L330.5,936.2 C330.5,931.2 353.5,931.2 353.5,936.2 L353.5,1051" stroke="#3a3a3a" stroke-width="1.0" fill="none" />
<path d="M230.3,1051 L230.3,972.8 C230.3,967.8 250.8,967.8 250.8,972.8 L250.8,1051" stroke="#3a3a3a" stroke-width="1.0" fill="none" />
<path d="M263.8,1051 L263.8,972.8 C263.8,967.8 282.8,967.8 282.8,972.8 L282.8,1051" stroke="#3a3a3a" stroke-width="1.0" fill="none" />
<path d="M295.5,1051 L295.5,972.8 C295.5,967.8 316.7,967.8 316.7,972.8 L316.7,1051" stroke="#3a3a3a" stroke-width="1.0" fill="none" />
<path d="M254.2,1051.5 L254.2,1060.8 L292.5,1060.8 L292.5,1051.5" stroke="#3a3a3a" stroke-width="1.0" fill="none" />
<line x1="254.2" y1="1054.3" x2="292.5" y2="1054.3" stroke="#3a3a3a" stroke-width="0.8"/>
<line x1="254.2" y1="1056.8" x2="292.5" y2="1056.8" stroke="#3a3a3a" stroke-width="0.8"/>
<path d="M258.3,1060.8 L258.3,1070.5 M287.5,1060.8 L287.5,1070.5" stroke="#3a3a3a" stroke-width="1.0" fill="none" />
<line x1="258.3" y1="1067.5" x2="287.5" y2="1067.5" stroke="#3a3a3a" stroke-width="1.8"/>
<line x1="260.8" y1="1099.2" x2="262.5" y2="1124.0" stroke="#3a3a3a" stroke-width="1.0"/>
<line x1="285.8" y1="1099.2" x2="284.2" y2="1124.0" stroke="#3a3a3a" stroke-width="1.0"/>
<line x1="180.8" y1="1124.2" x2="365.8" y2="1124.2" stroke="#3a3a3a" stroke-width="1.0"/>
<line x1="180.8" y1="1165.0" x2="365.8" y2="1165.0" stroke="#3a3a3a" stroke-width="1.0"/>
<line x1="180.8" y1="1239.2" x2="365.8" y2="1239.2" stroke="#3a3a3a" stroke-width="1.0"/>
<line x1="180.8" y1="1251.7" x2="365.8" y2="1251.7" stroke="#3a3a3a" stroke-width="1.0"/>
<ellipse cx="273.3" cy="1145.0" rx="10.2" ry="10.2" stroke="#8a8a8a" stroke-width="5" fill="none"/>
<ellipse cx="273.3" cy="1145.0" rx="7.7" ry="7.7" stroke="#666" stroke-width="0.7" fill="none"/>
<ellipse cx="273.3" cy="1145.0" rx="12.7" ry="12.7" stroke="#555" stroke-width="0.7" fill="none"/>
<ellipse cx="273.3" cy="1145.0" rx="10.2" ry="10.2" stroke="#aaa" stroke-width="0.6" fill="none"/>
<ellipse cx="225.8" cy="1159.7" rx="2.4" ry="2.4" stroke="#3a3a3a" stroke-width="0.9" fill="none"/>
<ellipse cx="320.0" cy="1159.7" rx="2.4" ry="2.4" stroke="#3a3a3a" stroke-width="0.9" fill="none"/>
<ellipse cx="235.8" cy="1159.7" rx="2.6" ry="2.6" stroke="#3a3a3a" stroke-width="0.9" fill="none"/>
<ellipse cx="310.0" cy="1159.7" rx="2.6" ry="2.6" stroke="#3a3a3a" stroke-width="0.9" fill="none"/>
<line x1="234.0" y1="1159.7" x2="237.6" y2="1159.7" stroke="#3a3a3a" stroke-width="0.8"/>
<line x1="308.2" y1="1159.7" x2="311.8" y2="1159.7" stroke="#3a3a3a" stroke-width="0.8"/>
<path d="M258.8,1181 L258.8,1166 L287.7,1166 L287.7,1181" stroke="#1a1a1a" stroke-width="2" fill="none" />
<line x1="258.5" y1="1173.0" x2="287.5" y2="1173.0" stroke="#1a1a1a" stroke-width="2.2"/>
<line x1="258.5" y1="1167.2" x2="287.5" y2="1167.2" stroke="#1a1a1a" stroke-width="1.2"/>
<line x1="262.0" y1="1168.0" x2="268.0" y2="1171.0" stroke="#3a3a3a" stroke-width="0.8"/>
<line x1="278.0" y1="1168.0" x2="284.0" y2="1171.0" stroke="#3a3a3a" stroke-width="0.8"/>
<line x1="273.3" y1="1166.0" x2="273.3" y2="1176.0" stroke="#3a3a3a" stroke-width="0.8"/>
<path d="M246.6,1201.7 A26.7,26.7 0 0 1 300,1201.7" stroke="#666" stroke-width="1.6" fill="none" />
<ellipse cx="273.3" cy="1201.7" rx="22.5" ry="22.5" stroke="#3a3a3a" stroke-width="1.1" fill="none"/>
<ellipse cx="273.3" cy="1201.7" rx="20.0" ry="20.0" stroke="#3a3a3a" stroke-width="1.1" fill="none"/>
<ellipse cx="273.3" cy="1201.7" rx="17.2" ry="17.2" stroke="#3a3a3a" stroke-width="1.1" fill="none"/>
<rect x="247.0" y="1206.0" width="3.0" height="4.0" rx="0" stroke="#222" stroke-width="0" fill="#333"/>
<line x1="254.2" y1="1216.7" x2="254.2" y2="1239.2" stroke="#3a3a3a" stroke-width="1.0"/>
<line x1="292.5" y1="1216.7" x2="292.5" y2="1239.2" stroke="#3a3a3a" stroke-width="1.0"/>
<path d="M250,1252.5 L250,1276 Q250,1278.3 252.5,1278.3 L294.2,1278.3 Q296.7,1278.3 296.7,1276 L296.7,1252.5" stroke="#3a3a3a" stroke-width="1.0" fill="none" />
<path d="M254.2,1278.3 L254.2,1281 Q254.2,1282.5 256,1282.5 L290,1282.5 Q291.7,1282.5 291.7,1281 L291.7,1278.3" stroke="#3a3a3a" stroke-width="1.0" fill="none" />
<rect x="249.5" y="1252.0" width="2.5" height="2.0" rx="0" stroke="#222" stroke-width="0" fill="#222"/>
<rect x="294.8" y="1252.0" width="2.5" height="2.0" rx="0" stroke="#222" stroke-width="0" fill="#222"/>
<rect x="181.7" y="1267.0" width="8.3" height="6.5" rx="1" stroke="#3a3a3a" stroke-width="0.8" fill="none"/>
<line x1="184.7" y1="1265.8" x2="184.7" y2="1274.2" stroke="#3a3a3a" stroke-width="0.8"/>
<line x1="187.2" y1="1265.8" x2="187.2" y2="1274.2" stroke="#3a3a3a" stroke-width="0.8"/>
<rect x="355.8" y="1267.0" width="8.3" height="6.5" rx="1" stroke="#3a3a3a" stroke-width="0.8" fill="none"/>
<line x1="358.8" y1="1265.8" x2="358.8" y2="1274.2" stroke="#3a3a3a" stroke-width="0.8"/>
<line x1="361.3" y1="1265.8" x2="361.3" y2="1274.2" stroke="#3a3a3a" stroke-width="0.8"/>
<line x1="273.3" y1="1128.0" x2="273.3" y2="1290.0" stroke="#999" stroke-width="0.8" stroke-dasharray="10,2,2,2"/>
<line x1="168.5" y1="745.0" x2="168.5" y2="840.0" stroke="#8c8c8c" stroke-width="0.8"/>
<line x1="378.0" y1="745.0" x2="378.0" y2="840.0" stroke="#8c8c8c" stroke-width="0.8"/>
<line x1="183.0" y1="743.5" x2="364.0" y2="743.5" stroke="#8c8c8c" stroke-width="0.8"/>
<polygon points="168.7,743.5 182.7,738.5 182.7,748.5" fill="#111"/>
<polygon points="377.8,743.5 363.8,748.5 363.8,738.5" fill="#111"/>
<text x="0" y="0" font-size="29.62" text-anchor="middle" fill="#1a1a1a" stroke="#fff" stroke-width="0.5" transform="translate(282.00 736.00) scale(0.977 1)" >510</text>
<line x1="174.5" y1="776.0" x2="174.5" y2="840.0" stroke="#8c8c8c" stroke-width="0.8"/>
<line x1="371.6" y1="776.0" x2="371.6" y2="840.0" stroke="#8c8c8c" stroke-width="0.8"/>
<line x1="189.0" y1="774.4" x2="357.0" y2="774.4" stroke="#8c8c8c" stroke-width="0.8"/>
<polygon points="174.7,774.4 188.7,769.4 188.7,779.4" fill="#111"/>
<polygon points="371.4,774.4 357.4,779.4 357.4,769.4" fill="#111"/>
<text x="0" y="0" font-size="29.18" text-anchor="middle" fill="#1a1a1a" stroke="#fff" stroke-width="0.5" transform="translate(278.30 771.00) scale(0.987 1)" >480</text>
<line x1="85.0" y1="855.0" x2="170.9" y2="855.0" stroke="#8c8c8c" stroke-width="0.8"/>
<line x1="91.0" y1="872.0" x2="91.0" y2="1275.0" stroke="#8c8c8c" stroke-width="0.8"/>
<polygon points="91.0,855.5 96.0,869.5 86.0,869.5" fill="#111"/>
<polygon points="91.0,1288.8 86.0,1274.8 96.0,1274.8" fill="#111"/>
<text x="0" y="0" font-size="24.02" text-anchor="middle" fill="#1a1a1a" stroke="#fff" stroke-width="0.5" transform="translate(82.20 1062.80) rotate(-90) scale(1.051 1)" >(1075)</text>
<line x1="378.0" y1="842.1" x2="464.0" y2="842.1" stroke="#8c8c8c" stroke-width="0.8"/>
<line x1="462.5" y1="857.0" x2="462.5" y2="1292.0" stroke="#8c8c8c" stroke-width="0.8"/>
<polygon points="462.5,842.3 467.5,857.3 457.5,857.3" fill="#111"/>
<polygon points="462.5,1292.0 457.5,1277.0 467.5,1277.0" fill="#111"/>
<text x="0" y="0" font-size="26.35" text-anchor="middle" fill="#1a1a1a" stroke="#fff" stroke-width="0.5" transform="translate(451.00 1060.70) rotate(-90) scale(1.071 1)" >(1095)</text>
<line x1="346.7" y1="879.3" x2="424.0" y2="879.3" stroke="#8c8c8c" stroke-width="0.8"/>
<line x1="416.0" y1="897.0" x2="416.0" y2="1145.0" stroke="#8c8c8c" stroke-width="0.8"/>
<polygon points="416.0,879.5 421.0,896.5 411.0,896.5" fill="#111"/>
<polygon points="416.0,1159.5 411.0,1144.5 421.0,1144.5" fill="#111"/>
<text x="0" y="0" font-size="29.03" text-anchor="middle" fill="#1a1a1a" stroke="#fff" stroke-width="0.5" transform="translate(411.00 1037.30) rotate(-90) scale(1.006 1)" >680</text>
<line x1="153.0" y1="1159.7" x2="425.0" y2="1159.7" stroke="#8c8c8c" stroke-width="0.8"/>
<polygon points="416.0,1160.0 421.0,1175.0 411.0,1175.0" fill="#111"/>
<line x1="416.0" y1="1175.0" x2="416.0" y2="1278.0" stroke="#8c8c8c" stroke-width="0.8"/>
<polygon points="416.0,1292.5 411.0,1277.5 421.0,1277.5" fill="#111"/>
<text x="0" y="0" font-size="25.85" text-anchor="middle" fill="#1a1a1a" stroke="#fff" stroke-width="0.5" transform="translate(407.80 1231.70) rotate(-90) scale(1.073 1)" >(320)</text>
<line x1="225.8" y1="1100.0" x2="225.8" y2="1158.0" stroke="#8c8c8c" stroke-width="0.8"/>
<line x1="320.0" y1="1100.0" x2="320.0" y2="1158.0" stroke="#8c8c8c" stroke-width="0.8"/>
<line x1="241.0" y1="1103.3" x2="305.0" y2="1103.3" stroke="#8c8c8c" stroke-width="0.8"/>
<polygon points="225.9,1103.3 240.9,1098.3 240.9,1108.3" fill="#111"/>
<polygon points="319.9,1103.3 304.9,1108.3 304.9,1098.3" fill="#111"/>
<text x="0" y="0" font-size="28.15" text-anchor="middle" fill="#1a1a1a" stroke="#fff" stroke-width="0.5" transform="translate(272.80 1095.60) scale(1.026 1)" >230</text>
<line x1="166.0" y1="1145.0" x2="292.0" y2="1145.0" stroke="#8c8c8c" stroke-width="0.8"/>
<line x1="120.0" y1="1145.0" x2="146.0" y2="1145.0" stroke="#8c8c8c" stroke-width="0.8"/>
<line x1="119.0" y1="1201.7" x2="302.5" y2="1201.7" stroke="#8c8c8c" stroke-width="0.8"/>
<line x1="124.0" y1="1122.0" x2="124.0" y2="1130.0" stroke="#8c8c8c" stroke-width="0.8"/>
<polygon points="124.0,1145.0 119.0,1130.0 129.0,1130.0" fill="#111"/>
<polygon points="124.0,1202.0 129.0,1217.0 119.0,1217.0" fill="#111"/>
<line x1="124.0" y1="1217.0" x2="124.0" y2="1227.0" stroke="#8c8c8c" stroke-width="0.8"/>
<text x="0" y="0" font-size="26.41" text-anchor="middle" fill="#1a1a1a" stroke="#fff" stroke-width="0.5" transform="translate(119.70 1174.20) rotate(-90) scale(0.948 1)" >135</text>
<line x1="157.5" y1="1138.0" x2="157.5" y2="1144.0" stroke="#8c8c8c" stroke-width="0.8"/>
<polygon points="157.5,1159.2 152.5,1144.2 162.5,1144.2" fill="#111"/>
<polygon points="157.5,1202.0 162.5,1217.0 152.5,1217.0" fill="#111"/>
<line x1="157.5" y1="1217.0" x2="157.5" y2="1274.0" stroke="#8c8c8c" stroke-width="0.8"/>
<text x="0" y="0" font-size="25.37" text-anchor="middle" fill="#1a1a1a" stroke="#fff" stroke-width="0.5" transform="translate(151.10 1245.50) rotate(-90) scale(1.007 1)" >100</text>
<line x1="168.3" y1="1296.8" x2="168.3" y2="1333.0" stroke="#8c8c8c" stroke-width="0.8"/>
<line x1="206.2" y1="1296.8" x2="206.2" y2="1333.0" stroke="#8c8c8c" stroke-width="0.8"/>
<line x1="149.0" y1="1329.4" x2="155.0" y2="1329.4" stroke="#8c8c8c" stroke-width="0.8"/>
<polygon points="168.3,1329.4 154.3,1334.9 154.3,1323.9" fill="#111"/>
<line x1="168.3" y1="1329.4" x2="206.2" y2="1329.4" stroke="#8c8c8c" stroke-width="0.8"/>
<polygon points="206.2,1329.4 220.2,1323.9 220.2,1334.9" fill="#111"/>
<line x1="220.0" y1="1329.4" x2="224.0" y2="1329.4" stroke="#8c8c8c" stroke-width="0.8"/>
<text x="0" y="0" font-size="29.47" text-anchor="middle" fill="#1a1a1a" stroke="#fff" stroke-width="0.5" transform="translate(188.00 1322.20) scale(1.004 1)" >90</text>
<line x1="236.6" y1="1162.0" x2="236.6" y2="1335.0" stroke="#8c8c8c" stroke-width="0.8"/>
<line x1="310.4" y1="1162.0" x2="310.4" y2="1335.0" stroke="#8c8c8c" stroke-width="0.8"/>
<line x1="250.0" y1="1328.2" x2="297.0" y2="1328.2" stroke="#8c8c8c" stroke-width="0.8"/>
<polygon points="237.3,1328.2 252.8,1323.2 252.8,1333.2" fill="#111"/>
<polygon points="308.3,1328.2 293.8,1333.2 293.8,1323.2" fill="#111"/>
<text x="0" y="0" font-size="29.47" text-anchor="middle" fill="#1a1a1a" stroke="#fff" stroke-width="0.5" transform="translate(273.40 1320.90) scale(0.939 1)" >180</text>
<line x1="365.5" y1="1294.0" x2="365.5" y2="1326.0" stroke="#999" stroke-width="0.8" stroke-dasharray="6,2,2,2"/>
<line x1="375.9" y1="1294.0" x2="375.9" y2="1326.0" stroke="#999" stroke-width="0.8" stroke-dasharray="6,2,2,2"/>
<line x1="341.0" y1="1326.5" x2="378.5" y2="1326.5" stroke="#aaa" stroke-width="0.8" stroke-dasharray="6,2,2,2"/>
<line x1="383.4" y1="1326.2" x2="424.8" y2="1326.2" stroke="#8c8c8c" stroke-width="0.8"/>
<line x1="455.8" y1="1326.2" x2="468.2" y2="1326.2" stroke="#8c8c8c" stroke-width="0.8"/>
<line x1="462.5" y1="1293.0" x2="462.5" y2="1380.0" stroke="#8c8c8c" stroke-width="0.8"/>
<polygon points="462.5,1326.8 467.5,1340.8 457.5,1340.8" fill="#111"/>
<text x="0" y="0" font-size="29.18" text-anchor="middle" fill="#1a1a1a" stroke="#fff" stroke-width="0.5" transform="translate(450.00 1338.60) rotate(-90) scale(0.967 1)" >0–200</text>
<line x1="680.0" y1="841.4" x2="680.0" y2="1280.5" stroke="#3a3a3a" stroke-width="1.1"/>
<line x1="696.4" y1="841.4" x2="696.4" y2="1280.5" stroke="#3a3a3a" stroke-width="1.1"/>
<line x1="680.0" y1="841.4" x2="696.4" y2="841.4" stroke="#3a3a3a" stroke-width="1.1"/>
<rect x="680.6" y="1280.5" width="15.9" height="9.7" rx="0" stroke="#3a3a3a" stroke-width="1" fill="none"/>
<rect x="681.0" y="1288.5" width="15.0" height="2.0" rx="0" stroke="#222" stroke-width="0" fill="#555"/>
<path d="M614.7,849.6 L617,848 L642.6,848 L642.6,851.2 L617,851.2 Z" stroke="#3a3a3a" stroke-width="0.9" fill="none" />
<line x1="618.0" y1="848.0" x2="618.0" y2="851.2" stroke="#3a3a3a" stroke-width="0.6"/>
<line x1="620.8" y1="848.0" x2="620.8" y2="851.2" stroke="#3a3a3a" stroke-width="0.6"/>
<line x1="623.6" y1="848.0" x2="623.6" y2="851.2" stroke="#3a3a3a" stroke-width="0.6"/>
<line x1="626.4" y1="848.0" x2="626.4" y2="851.2" stroke="#3a3a3a" stroke-width="0.6"/>
<line x1="629.2" y1="848.0" x2="629.2" y2="851.2" stroke="#3a3a3a" stroke-width="0.6"/>
<line x1="632.0" y1="848.0" x2="632.0" y2="851.2" stroke="#3a3a3a" stroke-width="0.6"/>
<line x1="634.8" y1="848.0" x2="634.8" y2="851.2" stroke="#3a3a3a" stroke-width="0.6"/>
<line x1="637.6" y1="848.0" x2="637.6" y2="851.2" stroke="#3a3a3a" stroke-width="0.6"/>
<line x1="640.4" y1="848.0" x2="640.4" y2="851.2" stroke="#3a3a3a" stroke-width="0.6"/>
<line x1="642.6" y1="848.4" x2="672.0" y2="848.4" stroke="#3a3a3a" stroke-width="0.9"/>
<line x1="642.6" y1="850.8" x2="672.0" y2="850.8" stroke="#3a3a3a" stroke-width="0.9"/>
<rect x="672.0" y="847.2" width="5.0" height="4.8" rx="0" stroke="#3a3a3a" stroke-width="0.9" fill="none"/>
<rect x="677.0" y="845.0" width="2.5" height="9.0" rx="0" stroke="#3a3a3a" stroke-width="0.9" fill="none"/>
<path d="M679.3,854.7 L670.5,854.7 Q667.3,855 667.3,858 L667.3,876.5 Q667.3,879.4 664,879.4 L651.5,880 Q647.7,880.5 647.7,884 L647.7,902" stroke="#3a3a3a" stroke-width="1.0" fill="none" />
<rect x="659.7" y="866.1" width="6.5" height="8.2" rx="1" stroke="#3a3a3a" stroke-width="0.9" fill="none"/>
<line x1="647.7" y1="902.0" x2="647.7" y2="946.0" stroke="#3a3a3a" stroke-width="1.0"/>
<rect x="647.7" y="902.0" width="6.1" height="10.4" rx="0" stroke="#3a3a3a" stroke-width="0.9" fill="none"/>
<path d="M653.8,902.2 Q654,900.7 656,900.7 L673.8,900.1 L673.8,914.8 L656,914.5 Q654,914.4 653.8,913 Z" stroke="#3a3a3a" stroke-width="0.9" fill="none" />
<rect x="673.9" y="900.2" width="5.6" height="14.6" rx="0" stroke="#222" stroke-width="1.5" fill="none"/>
<line x1="662.8" y1="902.9" x2="672.4" y2="902.9" stroke="#333" stroke-width="1.3"/>
<line x1="654.8" y1="907.4" x2="673.1" y2="907.4" stroke="#333" stroke-width="1.3"/>
<line x1="662.8" y1="911.8" x2="672.4" y2="911.8" stroke="#333" stroke-width="1.3"/>
<rect x="643.9" y="920.6" width="3.8" height="26.0" rx="0" stroke="#3a3a3a" stroke-width="1.0" fill="none"/>
<line x1="643.9" y1="947.2" x2="679.3" y2="947.2" stroke="#3a3a3a" stroke-width="1.0"/>
<path d="M643.4,947.2 L643.4,1047.5 Q643.4,1051.2 647,1051.2 L680,1051.2" stroke="#3a3a3a" stroke-width="1.0" fill="none" />
<path d="M651.5,1051.2 L651.5,1061.1 L680,1061.1" stroke="#3a3a3a" stroke-width="1.0" fill="none" />
<line x1="651.5" y1="1056.1" x2="680.0" y2="1056.1" stroke="#3a3a3a" stroke-width="0.9"/>
<path d="M655.8,1061.1 L655.8,1069.2" stroke="#3a3a3a" stroke-width="1.0" fill="none" />
<line x1="655.8" y1="1067.3" x2="680.0" y2="1067.3" stroke="#3a3a3a" stroke-width="2"/>
<path d="M655.8,1069.2 L658,1110 L659.5,1135.8 Q661,1142 665.5,1146.9 Q670,1152 676.5,1154.4" stroke="#3a3a3a" stroke-width="1.0" fill="none" />
<rect x="676.5" y="1153.7" width="3.5" height="20.7" rx="1.5" stroke="#3a3a3a" stroke-width="1.0" fill="none"/>
<ellipse cx="677.6" cy="1159.5" rx="1.8" ry="2.2" stroke="#3a3a3a" stroke-width="0.8" fill="#fff"/>
<rect x="697.1" y="860.4" width="7.6" height="55.7" rx="0" stroke="#3a3a3a" stroke-width="1.0" fill="none"/>
<line x1="703.5" y1="870.0" x2="703.5" y2="876.0" stroke="#3a3a3a" stroke-width="1.5"/>
<line x1="703.5" y1="900.0" x2="703.5" y2="906.0" stroke="#3a3a3a" stroke-width="1.5"/>
<path d="M704.7,861 L715.4,861 L715.4,916.1" stroke="#8e8e8e" stroke-width="0.9" fill="none" stroke-dasharray="3,2" />
<line x1="708.5" y1="917.1" x2="833.0" y2="917.1" stroke="#8c8c8c" stroke-width="0.8"/>
<path d="M679.3,1182.4 L669.6,1182.4 C650,1182.4 635.8,1198 635.8,1214.4 L635.8,1237.8" stroke="#3a3a3a" stroke-width="1.0" fill="none" />
<path d="M680,1219.2 L673.1,1219.2 L673.1,1237.8" stroke="#3a3a3a" stroke-width="1.0" fill="none" />
<rect x="631.0" y="1238.5" width="45.5" height="7.6" rx="3.5" stroke="#222" stroke-width="1.6" fill="none"/>
<line x1="627.6" y1="1252.3" x2="675.1" y2="1252.3" stroke="#222" stroke-width="2.2"/>
<path d="M628.3,1253.5 L628.3,1276.5 Q628.3,1279.2 631,1279.2 L671,1279.2 Q673.7,1279.2 673.7,1276.5 L673.7,1253.5" stroke="#3a3a3a" stroke-width="1.0" fill="none" />
<path d="M635.8,1279.2 L635.8,1281 Q635.8,1282.6 637.5,1282.6 L670.7,1282.6 Q672.4,1282.6 672.4,1281 L672.4,1279.2" stroke="#3a3a3a" stroke-width="1.0" fill="none" />
<line x1="634.2" y1="1246.1" x2="634.2" y2="1252.3" stroke="#3a3a3a" stroke-width="1.0"/>
<line x1="672.4" y1="1246.1" x2="672.4" y2="1252.3" stroke="#3a3a3a" stroke-width="1.0"/>
<line x1="654.2" y1="1211.6" x2="654.2" y2="1287.4" stroke="#8c8c8c" stroke-width="0.8"/>
<line x1="650.3" y1="1255.7" x2="650.3" y2="1330.0" stroke="#8c8c8c" stroke-width="0.8" stroke-dasharray="10,2,2,2"/>
<line x1="657.9" y1="1202.0" x2="701.3" y2="1202.0" stroke="#8c8c8c" stroke-width="0.8"/>
<rect x="696.5" y="1178.6" width="4.1" height="44.1" rx="1.5" stroke="#3a3a3a" stroke-width="1.0" fill="none"/>
<path d="M696.5,1157.2 L756,1157.2 Q757.8,1159.6 756,1162 L696.5,1162" stroke="#3a3a3a" stroke-width="1.0" fill="none" />
<line x1="760.6" y1="1159.3" x2="833.0" y2="1159.3" stroke="#8c8c8c" stroke-width="0.8" stroke-dasharray="14,3"/>
<path d="M700.6,1124.8 L715.1,1124.8 Q719,1127 722,1131 L724.7,1132.4" stroke="#8e8e8e" stroke-width="1.0" fill="none" stroke-dasharray="3,2.2" />
<line x1="726.1" y1="1132.7" x2="915.0" y2="1132.7" stroke="#8e8e8e" stroke-width="1.0" stroke-dasharray="3,2.2"/>
<path d="M699.2,1127.6 L699.2,1278.5 L764.7,1275.6 C780,1273 790,1270 796.7,1265 C812,1255 822,1246 828.7,1239.3 C840,1225 850,1212 860.7,1201" stroke="#8e8e8e" stroke-width="1.0" fill="none" stroke-dasharray="3,2.2" />
<path d="M763.6,1119.9 L909.7,1119.9 Q916.1,1121 916.1,1130.5 L916,1142 Q915.5,1150 915,1154 C910,1168 903,1179.6 895,1186 C880,1195 867,1198.8 852,1201.5 C839,1202.5 825,1203 810,1198 C795,1193 780,1182 770,1172 Q762,1165 760.4,1162.5" stroke="#8e8e8e" stroke-width="1.0" fill="none" stroke-dasharray="3,2.2" />
<path d="M711.3,1151.9 Q712,1149.6 716,1149.6 L903.3,1150.4 Q910,1151 914,1156" stroke="#8e8e8e" stroke-width="1.0" fill="none" stroke-dasharray="3,2.2" />
<path d="M711.3,1151.9 C710,1175 711,1200 715.6,1218 C722,1235 732,1248 743.3,1252.1 C760,1262 775,1265 786,1267" stroke="#8e8e8e" stroke-width="1.0" fill="none" stroke-dasharray="3,2.2" />
<path d="M719.9,1151.9 C720,1175 725,1195 732.7,1207.3 C742,1230 750,1244 760.4,1252.1 C770,1260 780,1265 790.3,1267" stroke="#8e8e8e" stroke-width="1.0" fill="none" stroke-dasharray="3,2.2" />
<path d="M745.5,1183.9 C743,1187 744,1192 746,1196 C755,1212 770,1228 780,1235 C785,1238 790,1236 788.5,1231 C785,1220 775,1205 763,1192 C756,1185 748,1181 745.5,1183.9 Z" stroke="#8e8e8e" stroke-width="1.0" fill="none" stroke-dasharray="3,2.2" />
<path d="M705.4,978.6 C704.5,973 707,969 712.3,968.1 L752,1110.7" stroke="#8e8e8e" stroke-width="1.0" fill="none" stroke-dasharray="3,2.2" />
<line x1="705.4" y1="978.6" x2="740.2" y2="1110.1" stroke="#8e8e8e" stroke-width="1.0" stroke-dasharray="3,2.2"/>
<path d="M727.8,1132 C727,1120 728,1112 737,1110.5 C741,1110 743,1112 744,1114 C746,1117 750,1118 754,1117 C758,1116 760,1118 760,1122 L760,1132" stroke="#8e8e8e" stroke-width="1.0" fill="none" stroke-dasharray="3,2.2" />
<path d="M758,1129 C760,1125 763,1121 768,1120" stroke="#8e8e8e" stroke-width="1.0" fill="none" stroke-dasharray="3,2.2" />
<line x1="540.0" y1="870.5" x2="578.0" y2="870.5" stroke="#8c8c8c" stroke-width="0.8"/>
<path d="M584.3,867.0 q3.3,-2.5 6.6,0 t6.6,0 t6.6,0 t6.6,0" stroke="#888" stroke-width="0.8" fill="none" />
<path d="M584.3,870.5 q3.3,-2.5 6.6,0 t6.6,0 t6.6,0 t6.6,0" stroke="#888" stroke-width="0.8" fill="none" />
<path d="M584.3,874.0 q3.3,-2.5 6.6,0 t6.6,0 t6.6,0 t6.6,0" stroke="#888" stroke-width="0.8" fill="none" />
<polygon points="627.4,870.5 611.4,877.0 611.4,864.0" fill="#111"/>
<line x1="631.2" y1="870.5" x2="659.0" y2="870.5" stroke="#8c8c8c" stroke-width="0.8"/>
<text x="0" y="0" font-size="27.27" text-anchor="middle" fill="#1a1a1a" stroke="#fff" stroke-width="0.5" transform="translate(595.10 906.40) scale(1.07 1)" >G1/2"</text>
<line x1="526.4" y1="870.0" x2="578.4" y2="870.0" stroke="#8c8c8c" stroke-width="0.8"/>
<line x1="527.4" y1="884.0" x2="527.4" y2="1278.0" stroke="#8c8c8c" stroke-width="0.8"/>
<polygon points="527.4,870.2 532.4,884.2 522.4,884.2" fill="#111"/>
<polygon points="527.4,1292.3 522.4,1278.3 532.4,1278.3" fill="#111"/>
<text x="0" y="0" font-size="22.83" text-anchor="middle" fill="#1a1a1a" stroke="#fff" stroke-width="0.5" transform="translate(519.00 1072.70) rotate(-90) scale(1.106 1)" >(1025)</text>
<line x1="643.0" y1="780.9" x2="643.0" y2="861.3" stroke="#8c8c8c" stroke-width="0.8"/>
<line x1="643.1" y1="882.8" x2="643.1" y2="915.5" stroke="#999" stroke-width="0.8"/>
<line x1="697.3" y1="780.9" x2="697.3" y2="838.8" stroke="#8c8c8c" stroke-width="0.8"/>
<line x1="704.9" y1="780.9" x2="704.9" y2="854.4" stroke="#8c8c8c" stroke-width="0.8"/>
<line x1="659.0" y1="783.3" x2="681.0" y2="783.3" stroke="#8c8c8c" stroke-width="0.8"/>
<polygon points="643.2,783.3 659.2,778.3 659.2,788.3" fill="#111"/>
<polygon points="697.3,783.3 681.3,788.3 681.3,778.3" fill="#111"/>
<polygon points="704.9,783.3 720.9,778.3 720.9,788.3" fill="#111"/>
<line x1="720.0" y1="783.3" x2="758.6" y2="783.3" stroke="#8c8c8c" stroke-width="0.8"/>
<text x="0" y="0" font-size="28.93" text-anchor="middle" fill="#1a1a1a" stroke="#fff" stroke-width="0.5" transform="translate(672.00 774.00) scale(0.994 1)" >129</text>
<text x="0" y="0" font-size="28.62" text-anchor="middle" fill="#1a1a1a" stroke="#fff" stroke-width="0.5" transform="translate(740.80 775.00) scale(1.021 1)" >20</text>
<polygon points="679.5,957.7 664.1,962.7 664.1,952.7" fill="#111"/>
<polygon points="696.3,957.7 712.3,952.7 712.3,962.7" fill="#111"/>
<line x1="662.7" y1="957.7" x2="753.0" y2="957.7" stroke="#8c8c8c" stroke-width="0.8"/>
<text x="0" y="0" font-size="28.93" text-anchor="middle" fill="#1a1a1a" stroke="#fff" stroke-width="0.5" transform="translate(733.80 952.00)" >40</text>
<line x1="829.7" y1="932.0" x2="829.7" y2="1144.0" stroke="#8c8c8c" stroke-width="0.8"/>
<polygon points="829.7,916.9 834.7,931.9 824.7,931.9" fill="#111"/>
<polygon points="829.7,1159.4 824.7,1144.4 834.7,1144.4" fill="#111"/>
<text x="0" y="0" font-size="29.61" text-anchor="middle" fill="#1a1a1a" stroke="#fff" stroke-width="0.5" transform="translate(822.20 1038.00) rotate(-90) scale(1.006 1)" >593</text>
<line x1="912.9" y1="1119.2" x2="981.2" y2="1119.2" stroke="#8c8c8c" stroke-width="0.8"/>
<line x1="975.2" y1="1135.0" x2="975.2" y2="1276.0" stroke="#8c8c8c" stroke-width="0.8"/>
<polygon points="975.2,1119.9 980.7,1134.9 969.7,1134.9" fill="#111"/>
<polygon points="975.2,1290.5 969.7,1275.5 980.7,1275.5" fill="#111"/>
<text x="0" y="0" font-size="29.18" text-anchor="middle" fill="#1a1a1a" stroke="#fff" stroke-width="0.5" transform="translate(966.30 1219.90) rotate(-90) scale(0.986 1)" >410</text>
<text x="0" y="0" font-size="17.86" text-anchor="middle" fill="#1a1a1a" stroke="#fff" stroke-width="0.5" transform="translate(954.20 1175.30) rotate(-90) scale(1.104 1)" >+20</text>
<text x="0" y="0" font-size="17.9" text-anchor="middle" fill="#1a1a1a" stroke="#fff" stroke-width="0.5" transform="translate(971.40 1178.40) rotate(-90) scale(0.992 1)" >-10</text>
<text x="0" y="0" font-size="30.75" text-anchor="middle" fill="#1a1a1a" stroke="#fff" stroke-width="0.5" transform="translate(918.30 1264.30) scale(0.941 1)" >0</text>
<polygon points="906.5,1272.4 930,1272.4 918.3,1289.5" fill="#111"/>
<text x="0" y="0" font-size="28.0" text-anchor="middle" fill="#1a1a1a" stroke="#fff" stroke-width="0.5" transform="translate(578.70 1259.50) scale(1.05 1)" >Ø110</text>
<line x1="542.0" y1="1268.2" x2="612.0" y2="1268.2" stroke="#8c8c8c" stroke-width="0.8"/>
<polygon points="627.0,1268.2 612.0,1273.2 612.0,1263.2" fill="#111"/>
<polygon points="675.4,1268.2 690.4,1263.2 690.4,1273.2" fill="#111"/>
<line x1="616.5" y1="1324.4" x2="636.0" y2="1324.4" stroke="#8c8c8c" stroke-width="0.8"/>
<polygon points="650.1,1324.4 636.1,1329.4 636.1,1319.4" fill="#111"/>
<polygon points="654.6,1324.4 668.6,1319.4 668.6,1329.4" fill="#111"/>
<line x1="668.0" y1="1324.4" x2="675.4" y2="1324.4" stroke="#8c8c8c" stroke-width="0.8"/>
<text x="0" y="0" font-size="28.59" text-anchor="middle" fill="#1a1a1a" stroke="#fff" stroke-width="0.5" transform="translate(626.80 1320.20) scale(0.986 1)" >7</text>
<line x1="628.6" y1="1357.3" x2="640.0" y2="1357.3" stroke="#8c8c8c" stroke-width="0.8"/>
<polygon points="652.9,1357.3 638.9,1362.3 638.9,1352.3" fill="#111"/>
<line x1="652.9" y1="1357.3" x2="698.0" y2="1357.3" stroke="#8c8c8c" stroke-width="0.8"/>
<polygon points="698.0,1357.3 712.0,1352.3 712.0,1362.3" fill="#111"/>
<line x1="712.0" y1="1357.3" x2="774.2" y2="1357.3" stroke="#8c8c8c" stroke-width="0.8"/>
<text x="0" y="0" font-size="28.29" text-anchor="middle" fill="#1a1a1a" stroke="#fff" stroke-width="0.5" transform="translate(739.00 1351.20) scale(1.018 1)" >102</text>
</svg></body></html>
